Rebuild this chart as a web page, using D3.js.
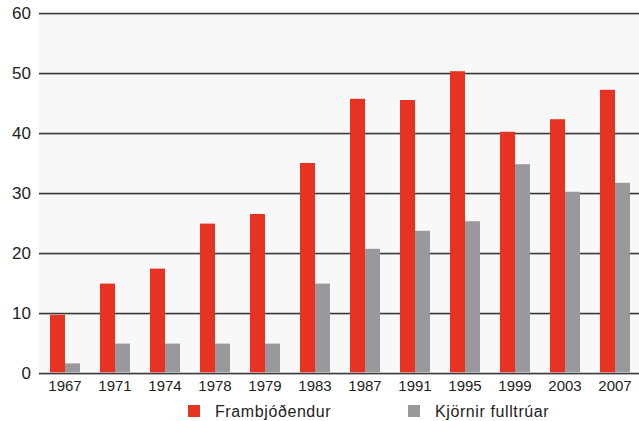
<!DOCTYPE html>
<html>
<head>
<meta charset="utf-8">
<script src="https://cdn.jsdelivr.net/npm/d3@7"></script>
<style>
  body { margin: 0; background: #fff; }
  svg { display: block; font-family: "Liberation Sans", Arial, sans-serif; }
</style>
</head>
<body>
<svg id="chart"></svg>
<script>
const years = ['1967', '1971', '1974', '1978', '1979', '1983', '1987', '1991', '1995', '1999', '2003', '2007'];
const frambjodendur = [9.7, 14.9, 17.4, 24.9, 26.5, 35.0, 45.7, 45.5, 50.3, 40.2, 42.3, 47.2];
const kjornir = [1.6, 4.9, 4.9, 4.9, 4.9, 14.9, 20.7, 23.7, 25.3, 34.8, 30.2, 31.7];
const seriesNames = ['Frambjóðendur', 'Kjörnir fulltrúar'];
const yTicks = [0, 10, 20, 30, 40, 50, 60];

const width = 639;
const height = 421;
const plotLeft = 39;
const plotTop = 13;
const plotBottom = 373;

const colors = ['#e63323', '#99989d'];

const svg = d3.select('#chart')
  .attr('width', width)
  .attr('height', height);

const xScale = d3.scaleBand()
  .domain(years)
  .range([40, 640])
  .paddingInner(0.4)
  .paddingOuter(0.2);

const xSub = d3.scaleBand()
  .domain(seriesNames)
  .range([0, xScale.bandwidth()]);

const yScale = d3.scaleLinear()
  .domain([0, 60])
  .range([plotBottom, plotTop]);

// plot background
svg.append('rect')
  .attr('x', plotLeft)
  .attr('y', plotTop)
  .attr('width', width - plotLeft)
  .attr('height', plotBottom - plotTop)
  .attr('fill', '#f8f8f8');

// light shadow under each gridline
svg.append('g')
  .selectAll('line')
  .data(yTicks)
  .enter()
  .append('line')
  .attr('x1', plotLeft)
  .attr('x2', width)
  .attr('y1', d => yScale(d) + 1.5)
  .attr('y2', d => yScale(d) + 1.5)
  .attr('stroke', '#dcdcdc')
  .attr('stroke-width', 1);

const yAxis = d3.axisLeft(yScale)
  .tickValues(yTicks)
  .tickSize(-(width - plotLeft))
  .tickPadding(8);

const yG = svg.append('g')
  .attr('transform', 'translate(' + plotLeft + ',0)')
  .call(yAxis);
yG.select('.domain').remove();
yG.selectAll('line').attr('stroke', '#3a3a3a').attr('stroke-width', 1.4);
yG.selectAll('text')
  .attr('fill', '#222')
  .style('font-size', '17px');

const groups = svg.append('g')
  .selectAll('g')
  .data(years)
  .enter()
  .append('g')
  .attr('transform', d => 'translate(' + xScale(d) + ',0)');

groups.selectAll('rect')
  .data((d, i) => [
    { name: seriesNames[0], value: frambjodendur[i] },
    { name: seriesNames[1], value: kjornir[i] }
  ])
  .enter()
  .append('rect')
  .attr('x', d => xSub(d.name))
  .attr('width', xSub.bandwidth())
  .attr('y', d => yScale(d.value))
  .attr('height', d => yScale(0) - yScale(d.value) - 0.7)
  .attr('fill', (d, i) => colors[i]);

const xAxis = d3.axisBottom(xScale)
  .tickSize(0)
  .tickPadding(7);

const xG = svg.append('g')
  .attr('transform', 'translate(0,' + plotBottom + ')')
  .call(xAxis);
xG.select('.domain').remove();
xG.selectAll('text')
  .attr('fill', '#222')
  .style('font-size', '15px');

// legend
const legendX = [188, 408];
const legend = svg.append('g')
  .selectAll('g')
  .data(seriesNames)
  .enter()
  .append('g')
  .attr('transform', (d, i) => 'translate(' + legendX[i] + ',405)');

legend.append('rect')
  .attr('width', 12)
  .attr('height', 12)
  .attr('fill', (d, i) => colors[i]);

legend.append('text')
  .attr('x', 27)
  .attr('y', 11.5)
  .attr('fill', '#222')
  .style('font-size', '16px')
  .style('letter-spacing', '0.6px')
  .text(d => d);
</script>
</body>
</html>
